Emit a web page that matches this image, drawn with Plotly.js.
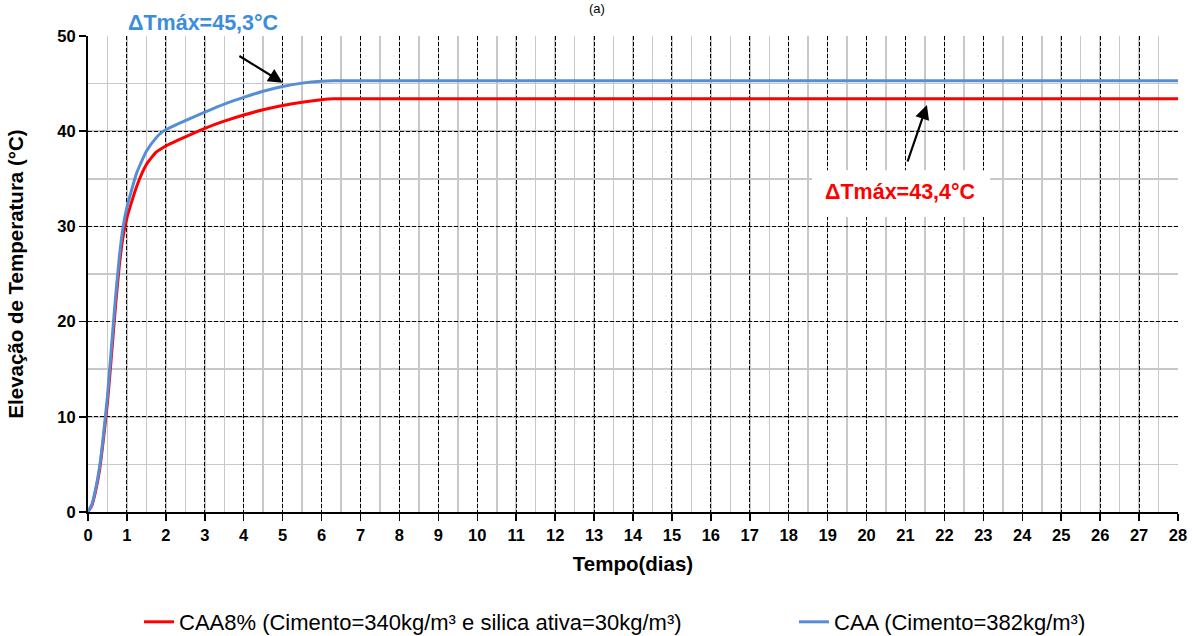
<!DOCTYPE html>
<html>
<head>
<meta charset="utf-8">
<script src="https://cdn.plot.ly/plotly-3.0.1.min.js"></script>
<style>html,body{margin:0;padding:0;background:#fff;}#chart{width:1192px;height:636px;}</style>
</head>
<body>
<div id="chart"></div>
<script>
// ---- data ----
const days = [0, 0.1, 0.2, 0.3, 0.4, 0.5, 0.6, 0.7, 0.8, 0.9, 1.0, 1.25, 1.5, 1.75, 1.9, 2.0, 2.5, 3.0, 3.5, 4.0, 4.5, 5.0, 5.5, 6.0, 6.3, 7, 10, 15, 20, 25, 28];
const caa8 = [0, 0.7, 2.3, 4.5, 7.8, 11.5, 16.3, 21.3, 25.7, 28.9, 30.9, 34.2, 36.5, 37.8, 38.2, 38.45, 39.4, 40.3, 41.05, 41.7, 42.25, 42.7, 43.05, 43.3, 43.4, 43.4, 43.4, 43.4, 43.4, 43.4, 43.4];
const caa  = [0, 0.8, 2.5, 4.8, 8.2, 12.2, 17.2, 22.2, 26.6, 29.9, 32.0, 35.6, 37.9, 39.3, 39.9, 40.15, 41.1, 42.0, 42.85, 43.55, 44.2, 44.7, 45.05, 45.25, 45.3, 45.3, 45.3, 45.3, 45.3, 45.3, 45.3];
const seriesNames = ["CAA8% (Cimento=340kg/m³ e silica ativa=30kg/m³)", "CAA (Cimento=382kg/m³)"];
const xTicks = Array.from({length: 29}, (_, i) => i);
const yTicks = [0, 10, 20, 30, 40, 50];
const labelBlue = "ΔTmáx=45,3°C";
const labelRed = "ΔTmáx=43,4°C";
const panelTitle = "(a)";

const FONT = "Liberation Sans, Arial, sans-serif";
const RED = "#FF0000";
const BLUE = "#558ED5";

const traces = [
  {x: days, y: caa8, name: seriesNames[0], type: "scatter", mode: "lines", legend: "legend",
   line: {color: RED, width: 3, shape: "spline", smoothing: 0.5}},
  {x: days, y: caa, name: seriesNames[1], type: "scatter", mode: "lines", legend: "legend2",
   line: {color: BLUE, width: 3, shape: "spline", smoothing: 0.5}}
];

const axisCommon = {
  showline: true, linecolor: "#000", linewidth: 2,
  ticks: "outside", ticklen: 7, tickwidth: 1.5, tickcolor: "#000",
  showgrid: true, gridcolor: "#000", gridwidth: 1, griddash: "4px,2px",
  zeroline: false,
  tickfont: {family: FONT, size: 16.5, color: "#000", weight: "bold"}
};

const legendCommon = {orientation: "h", xref: "container", yref: "container",
  xanchor: "left", y: 0.022, yanchor: "middle", bgcolor: "rgba(0,0,0,0)",
  font: {family: FONT, size: 22, color: "#000"}, itemwidth: 30};

const layout = {
  width: 1192, height: 636,
  margin: {l: 88, r: 14, t: 36, b: 124},
  paper_bgcolor: "#fff", plot_bgcolor: "#fff",
  showlegend: true,
  legend: Object.assign({}, legendCommon, {x: 139 / 1192}),
  legend2: Object.assign({}, legendCommon, {x: 794 / 1192}),
  xaxis: Object.assign({}, axisCommon, {
    range: [0, 28], tickvals: xTicks, ticktext: xTicks.map(String),
    minor: {dtick: 0.5, showgrid: true, gridcolor: "#c8c8c8", gridwidth: 1.5, griddash: "solid", ticks: ""},
    title: {text: "Tempo(dias)", font: {family: FONT, size: 20.5, color: "#000", weight: "bold"}, standoff: 14}
  }),
  yaxis: Object.assign({}, axisCommon, {
    range: [0, 50], tickvals: yTicks, ticktext: yTicks.map(String),
    minor: {dtick: 5, showgrid: true, gridcolor: "#c8c8c8", gridwidth: 1.5, griddash: "solid", ticks: ""},
    title: {text: "Elevação de Temperatura (°C)", font: {family: FONT, size: 20.5, color: "#000", weight: "bold"}, standoff: 28}
  }),
  shapes: [
    {type: "rect", xref: "paper", yref: "paper", x0: 0.0229, x1: 0.19, y0: 0.960, y1: 1.08,
     fillcolor: "#fff", line: {width: 0}, layer: "between"},
    {type: "rect", xref: "x", yref: "y", x0: 18.6, x1: 23.17, y0: 31.0, y1: 35.9,
     fillcolor: "#fff", line: {width: 0}, layer: "between"}
  ],
  annotations: [
    {xref: "paper", yref: "paper", x: 0.467, y: 1.0756, xanchor: "center", yanchor: "top",
     text: panelTitle, showarrow: false, borderpad: 0, font: {family: FONT, size: 13, color: "#000"}},
    {xref: "paper", yref: "paper", x: 0.1055, y: 1.027, xanchor: "center", yanchor: "middle",
     text: labelBlue, showarrow: false, font: {family: FONT, size: 21.5, color: "#3B8EDB", weight: "bold"}},
    {xref: "x", yref: "y", x: 20.86, y: 33.6, xanchor: "center", yanchor: "middle",
     text: labelRed, showarrow: false, font: {family: FONT, size: 21.5, color: RED, weight: "bold"}},
    {xref: "x", yref: "y", x: 5.0, y: 45.1, axref: "x", ayref: "y", ax: 3.85, ay: 48.0,
     text: "", showarrow: true, arrowhead: 2, arrowsize: 1.3, arrowwidth: 2.2, arrowcolor: "#000", standoff: 0},
    {xref: "x", yref: "y", x: 21.55, y: 42.75, axref: "x", ayref: "y", ax: 21.04, ay: 36.66,
     text: "", showarrow: true, arrowhead: 2, arrowsize: 1.3, arrowwidth: 2.2, arrowcolor: "#000", standoff: 0}
  ]
};

Plotly.newPlot("chart", traces, layout, {displayModeBar: false, staticPlot: true});
</script>
</body>
</html>
